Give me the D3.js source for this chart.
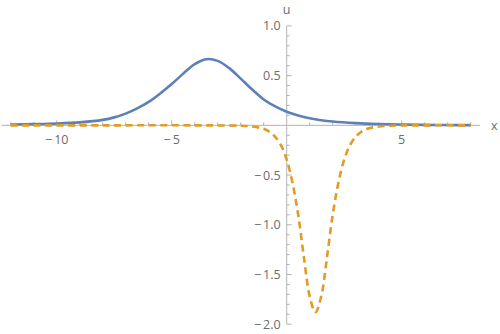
<!DOCTYPE html>
<html>
<head>
<meta charset="utf-8">
<script src="https://cdn.jsdelivr.net/npm/d3@7"></script>
<style>
  body { margin: 0; background: #fff; }
  svg { display: block; }
  text { font-family: "Open Sans", sans-serif; }
</style>
</head>
<body>
<div id="chart"></div>
<script>
// blue solid curve
const blueX = [-12, -11, -10, -9, -8, -7.5, -7, -6.5, -6, -5.5, -5, -4.5, -4, -3.5, -3, -2.5, -2, -1.5, -1, -0.5, 0, 0.5, 1, 1.5, 2, 3, 4, 5, 6, 7, 8];
const blueU = [0.008, 0.012, 0.018, 0.03, 0.055, 0.08, 0.118, 0.17, 0.235, 0.32, 0.415, 0.52, 0.615, 0.665, 0.648, 0.575, 0.47, 0.36, 0.26, 0.19, 0.137, 0.1, 0.072, 0.052, 0.038, 0.022, 0.013, 0.008, 0.005, 0.003, 0.002];

// orange dashed curve
const orangeX = [-12, -8, -4, -3, -2, -1.5, -1, -0.75, -0.5, -0.25, 0, 0.25, 0.5, 0.75, 1, 1.25, 1.5, 1.75, 2, 2.25, 2.5, 2.75, 3, 3.25, 3.5, 4, 4.5, 5, 6, 8];
const orangeU = [0, 0, 0, -0.001, -0.004, -0.012, -0.035, -0.065, -0.115, -0.2, -0.345, -0.575, -0.9, -1.33, -1.72, -1.88, -1.72, -1.33, -0.9, -0.575, -0.345, -0.2, -0.115, -0.065, -0.035, -0.012, -0.004, -0.001, 0, 0];

// ticks
const xMajor = [-10, -5, 5];
const xMinor = d3.range(-12, 9).filter(v => v % 5 !== 0);
const yMajor = [1.0, 0.5, -0.5, -1.0, -1.5, -2.0];
const yMinor = d3.range(-20, 11).map(v => v / 10).filter(v => Math.round(v * 10) % 5 !== 0);

const width = 500, height = 334;

const x = d3.scaleLinear().domain([-12.4, 8.4]).range([1.5, 479.9]);
const y = d3.scaleLinear().domain([-2, 1]).range([324.2, 25.9]);

const svg = d3.select("#chart").append("svg").attr("width", width).attr("height", height);

const axisColor = "#b3b3b3";
const labelColor = "#6b6b6b";
const minus = v => (v < 0 ? "\u2212\u2009" : "");
const fmtX = v => minus(v) + Math.abs(v);
const fmtY = v => minus(v) + Math.abs(v).toFixed(1);

// x axis
const gx = svg.append("g").attr("transform", `translate(0,${y(0)})`);
gx.append("line").attr("x1", x(-12.4)).attr("x2", x(8.4)).attr("stroke", axisColor);
gx.selectAll(".minor").data(xMinor).join("line")
  .attr("x1", d => x(d)).attr("x2", d => x(d)).attr("y1", 0).attr("y2", -3)
  .attr("stroke", axisColor);
gx.selectAll(".major").data(xMajor).join("line")
  .attr("x1", d => x(d)).attr("x2", d => x(d)).attr("y1", 0).attr("y2", -5)
  .attr("stroke", axisColor);
gx.selectAll("text").data(xMajor).join("text")
  .attr("x", d => x(d)).attr("y", 18.5)
  .attr("text-anchor", "middle").attr("font-size", 12.5).attr("fill", labelColor)
  .text(fmtX);

// y axis
const gy = svg.append("g").attr("transform", `translate(${x(0)},0)`);
gy.append("line").attr("y1", y(-2)).attr("y2", y(1)).attr("stroke", axisColor);
gy.selectAll(".minor").data(yMinor).join("line")
  .attr("y1", d => y(d)).attr("y2", d => y(d)).attr("x1", 0).attr("x2", 3)
  .attr("stroke", axisColor);
gy.selectAll(".major").data(yMajor).join("line")
  .attr("y1", d => y(d)).attr("y2", d => y(d)).attr("x1", 0).attr("x2", 5)
  .attr("stroke", axisColor);
gy.selectAll("text").data(yMajor).join("text")
  .attr("x", -6).attr("y", d => y(d)).attr("dy", "0.36em")
  .attr("text-anchor", "end").attr("font-size", 12.5).attr("fill", labelColor)
  .text(fmtY);

// axis names
svg.append("text").attr("x", 491).attr("y", 130).attr("font-size", 12.5).attr("fill", labelColor).text("x");
svg.append("text").attr("x", x(0)).attr("y", 14).attr("text-anchor", "middle").attr("font-size", 12.5).attr("fill", labelColor).text("u");

// curves
const line = d3.line().x(d => x(d[0])).y(d => y(d[1])).curve(d3.curveCatmullRom.alpha(0.5));

svg.append("path")
  .attr("d", line(d3.zip(blueX, blueU)))
  .attr("fill", "none").attr("stroke", "#5e81b5").attr("stroke-width", 2.6);

svg.append("path")
  .attr("d", line(d3.zip(orangeX, orangeU)))
  .attr("fill", "none").attr("stroke", "#e19c24").attr("stroke-width", 2.6)
  .attr("stroke-dasharray", "7,4.5");
</script>
</body>
</html>
